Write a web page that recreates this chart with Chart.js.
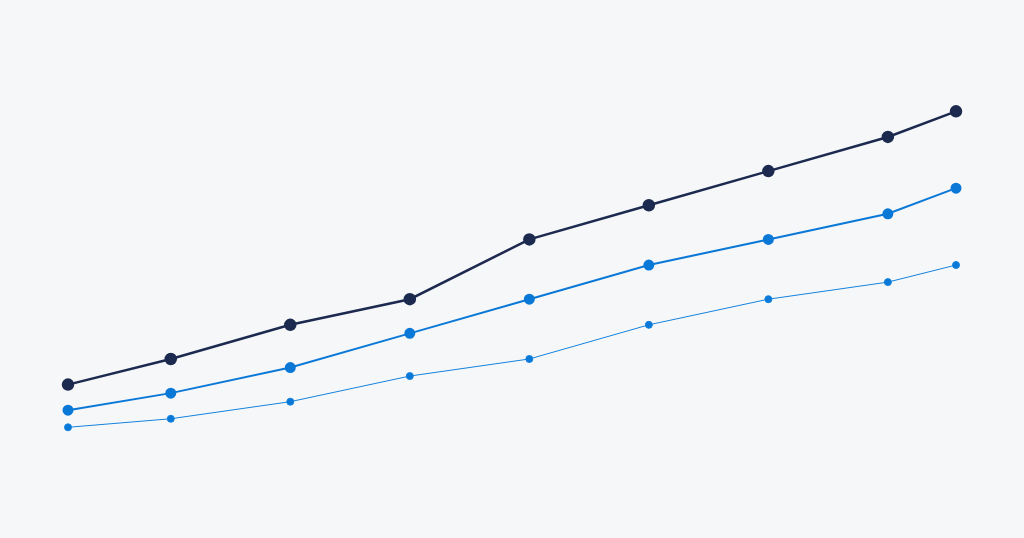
<!DOCTYPE html>
<html>
<head>
<meta charset="utf-8">
<script src="https://cdn.jsdelivr.net/npm/chart.js@4/dist/chart.umd.min.js"></script>
<style>
  html, body { margin: 0; padding: 0; background: #f6f7f9; }
  #wrap { width: 1024px; height: 538px; }
</style>
</head>
<body>
<div id="wrap"><canvas id="myChart" width="1024" height="538"></canvas></div>
<script>
'use strict';

/* DATA */

var xs = [0, 0.86, 1.86, 2.86, 3.86, 4.86, 5.86, 6.86, 7.43];
var topSeries = [15, 18, 22, 25, 32, 36, 40, 44, 47];
var midSeries = [12, 14, 17, 21, 25, 29, 32, 35, 38];
var lowSeries = [10, 11, 13, 16, 18, 22, 25, 27, 29];

function points(values) {
  return values.map(function(v, i) { return { x: xs[i], y: v }; });
}

/* CHART */

var ctx = document.getElementById('myChart').getContext('2d');
var chart = new Chart(ctx, {
  type: 'line',
  data: {
    datasets: [{
        label: 'Top',
        data: points(topSeries),
        borderColor: '#1c2a4f',
        backgroundColor: '#1c2a4f',
        borderWidth: 2.5,
        pointRadius: 5,
        clip: false,
      },
      {
        label: 'Middle',
        data: points(midSeries),
        borderColor: '#0a78d6',
        backgroundColor: '#0a78d6',
        borderWidth: 2,
        pointRadius: 4.5,
        clip: false,
      },
      {
        label: 'Low',
        data: points(lowSeries),
        borderColor: '#1482de',
        backgroundColor: '#0a78d6',
        borderWidth: 1,
        pointRadius: 3.5,
        clip: false,
      }]
  },
  options: {
    responsive: false,
    animation: false,
    layout: { padding: { left: 68, right: 68, top: 43, bottom: 68 } },
    plugins: { legend: { display: false }, tooltip: { enabled: false } },
    scales: {
      x: { type: 'linear', min: 0, max: 7.43, display: false },
      y: { min: 5, max: 55, display: false }
    }
  }
});
</script>
</body>
</html>
